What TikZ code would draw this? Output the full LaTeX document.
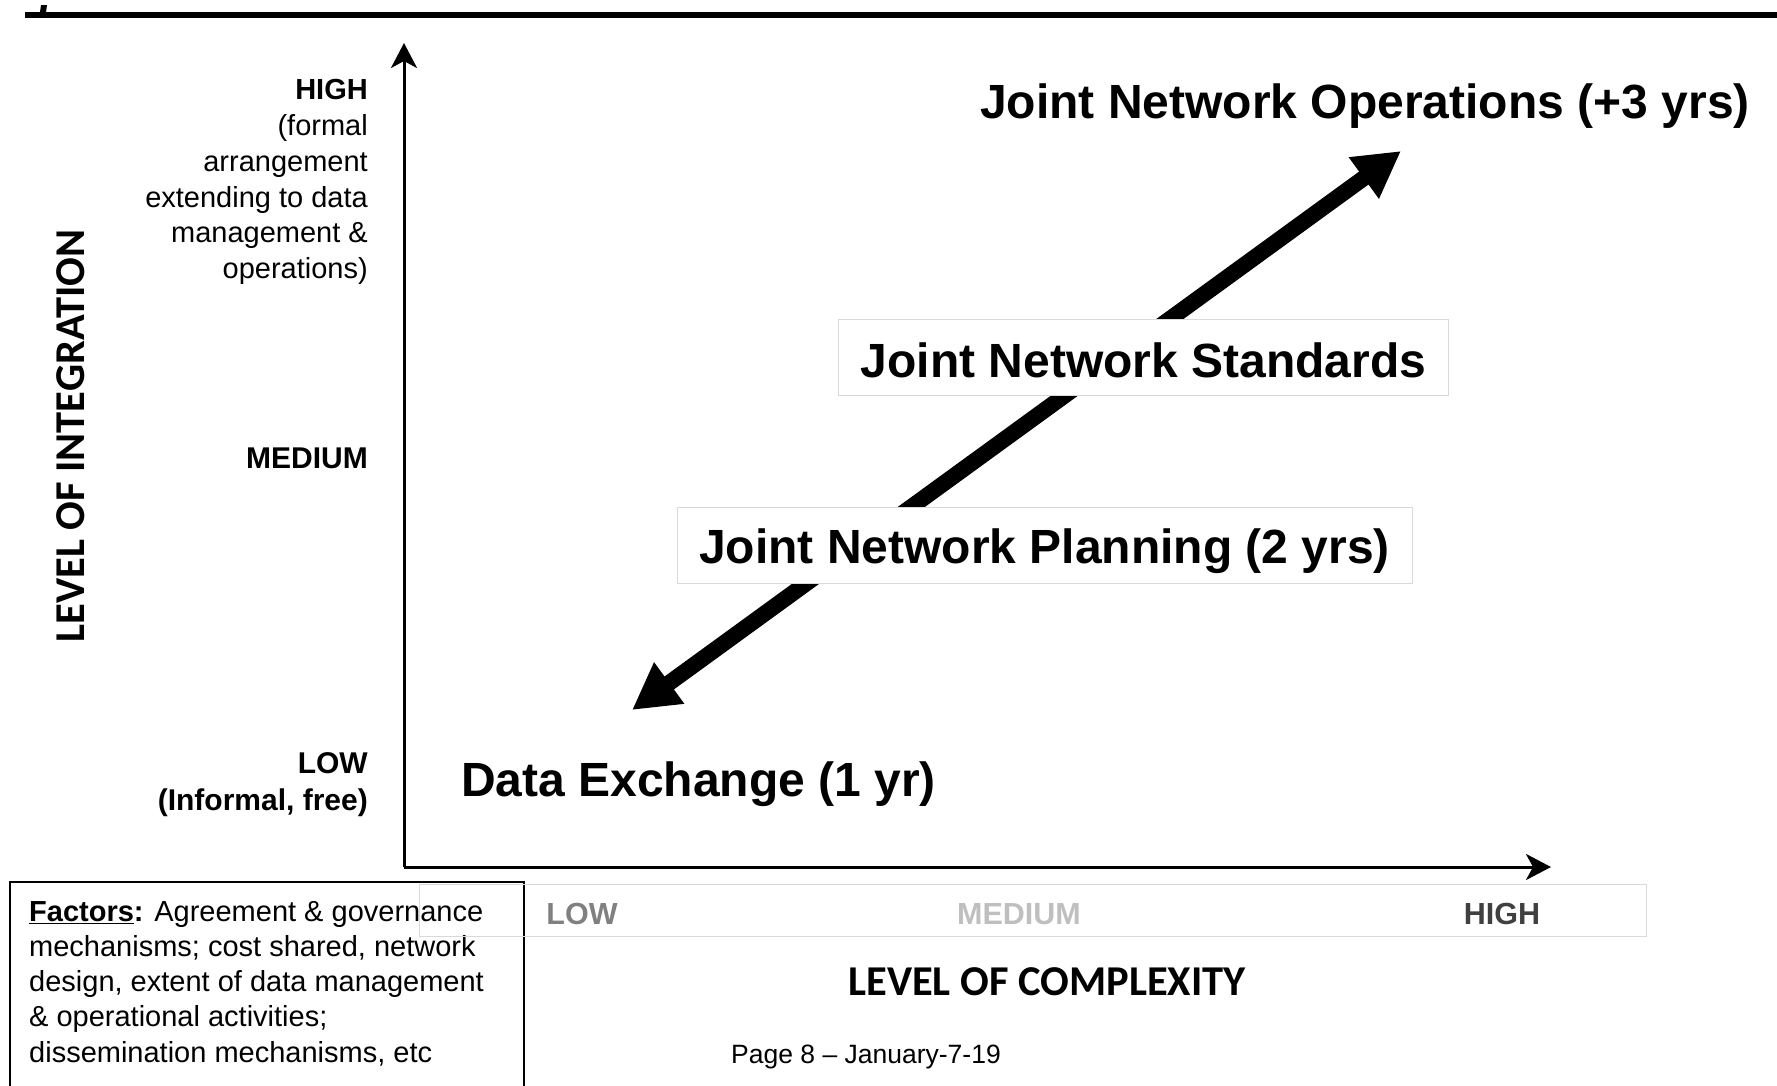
\documentclass[tikz,border=0pt]{standalone}
\usepackage{fontspec}
\setmainfont{Liberation Sans}
\newfontfamily\calibfont{Carlito}
\usetikzlibrary{arrows.meta}
\definecolor{boxgray}{RGB}{217,217,217}
\definecolor{lowgray}{RGB}{128,128,128}
\definecolor{medgray}{RGB}{191,191,191}
\definecolor{highgray}{RGB}{64,64,64}
\begin{document}
\begin{tikzpicture}[x=1pt,y=-1pt,
    axis/.style={line width=3pt,-{Stealth[length=25pt,width=26pt,inset=7pt]}},
    ylabel/.style={anchor=east,align=right,inner sep=0pt,font=\fontsize{29}{35.8}\selectfont},
    stage/.style={inner sep=0pt,font=\fontsize{48}{56}\selectfont\bfseries},
    stagebox/.style={stage,draw=boxgray,fill=white,line width=1pt,minimum height=76pt},
    xlabel/.style={inner sep=0pt,font=\fontsize{30.5}{36}\selectfont\bfseries},
    axistitle/.style={inner sep=0pt,font=\calibfont\fontsize{42.5}{48}\selectfont\bfseries},
    plain/.style={inner sep=0pt,align=left,font=\fontsize{29}{35.2}\selectfont}]
  \useasboundingbox (0,0) rectangle (1777,1085);
  % header rule
  \draw[line width=6pt] (25,15) -- (1777,15);
  \fill (40,12) -- (41,5) -- (47,5) -- (46,12) -- cycle;

  % axes
  \coordinate (origin) at (404,867);
  \coordinate (ytip) at (404,43);
  \coordinate (xtip) at (1551,867);
  \draw[axis] (origin) -- (ytip);
  \draw[axis] (origin) -- (xtip);

  % vertical scale
  \node[ylabel] (yhigh) at (368,182) {\textbf{HIGH}\\(formal\\arrangement\\extending to data\\management \&\\operations)};
  \node[ylabel,font=\fontsize{30}{36}\selectfont\bfseries] (ymed) at (368,458) {MEDIUM};
  \node[ylabel,font=\fontsize{30}{37}\selectfont\bfseries] (ylow) at (368,785) {LOW\\(Informal, free)};
  \node[axistitle,rotate=90] (ytitle) at (71,436) {LEVEL OF INTEGRATION};

  % stages
  \coordinate (lowtip) at (632,710);
  \coordinate (hightip) at (1401,151);
  \draw[line width=16pt,{Triangle[length=46pt,width=48pt]}-{Triangle[length=46pt,width=48pt]}] (lowtip) -- (hightip);
  \node[stagebox,minimum width=610pt,text height=40pt,text depth=0pt] (standards) at (1143.5,357.5) {Joint Network Standards};
  \node[stagebox,minimum width=735pt,text height=46pt,text depth=10pt] (planning) at (1044.5,545) {Joint Network Planning (2 yrs)};
  \node[stage,anchor=west] (exchange) at (461,784) {Data Exchange (1 yr)};
  \node[stage,anchor=west] (operations) at (980,106) {Joint Network Operations (+3 yrs)};

  % factors box
  \draw[line width=2pt] (10,1095) -- (10,882) -- (524,882) -- (524,1095);
  \node[plain,anchor=north west] (factors) at (29,901) {\underline{\textbf{Factors}}\textbf{:} Agreement \& governance\\mechanisms; cost shared, network\\design, extent of data management\\\& operational activities;\\dissemination mechanisms, etc};

  % horizontal scale
  \draw[boxgray,line width=1pt] (419,884) rectangle (1646,936);
  \node[xlabel,text=lowgray] (xlow) at (582,914) {LOW};
  \node[xlabel,text=medgray] (xmed) at (1019,914) {MEDIUM};
  \node[xlabel,text=highgray] (xhigh) at (1502,914) {HIGH};
  \node[axistitle] (xtitle) at (1047,982) {LEVEL OF COMPLEXITY};
  \node[plain,anchor=west,font=\fontsize{26.5}{32}\selectfont] (page) at (731,1057) {Page 8 – January-7-19};
\end{tikzpicture}
\end{document}
